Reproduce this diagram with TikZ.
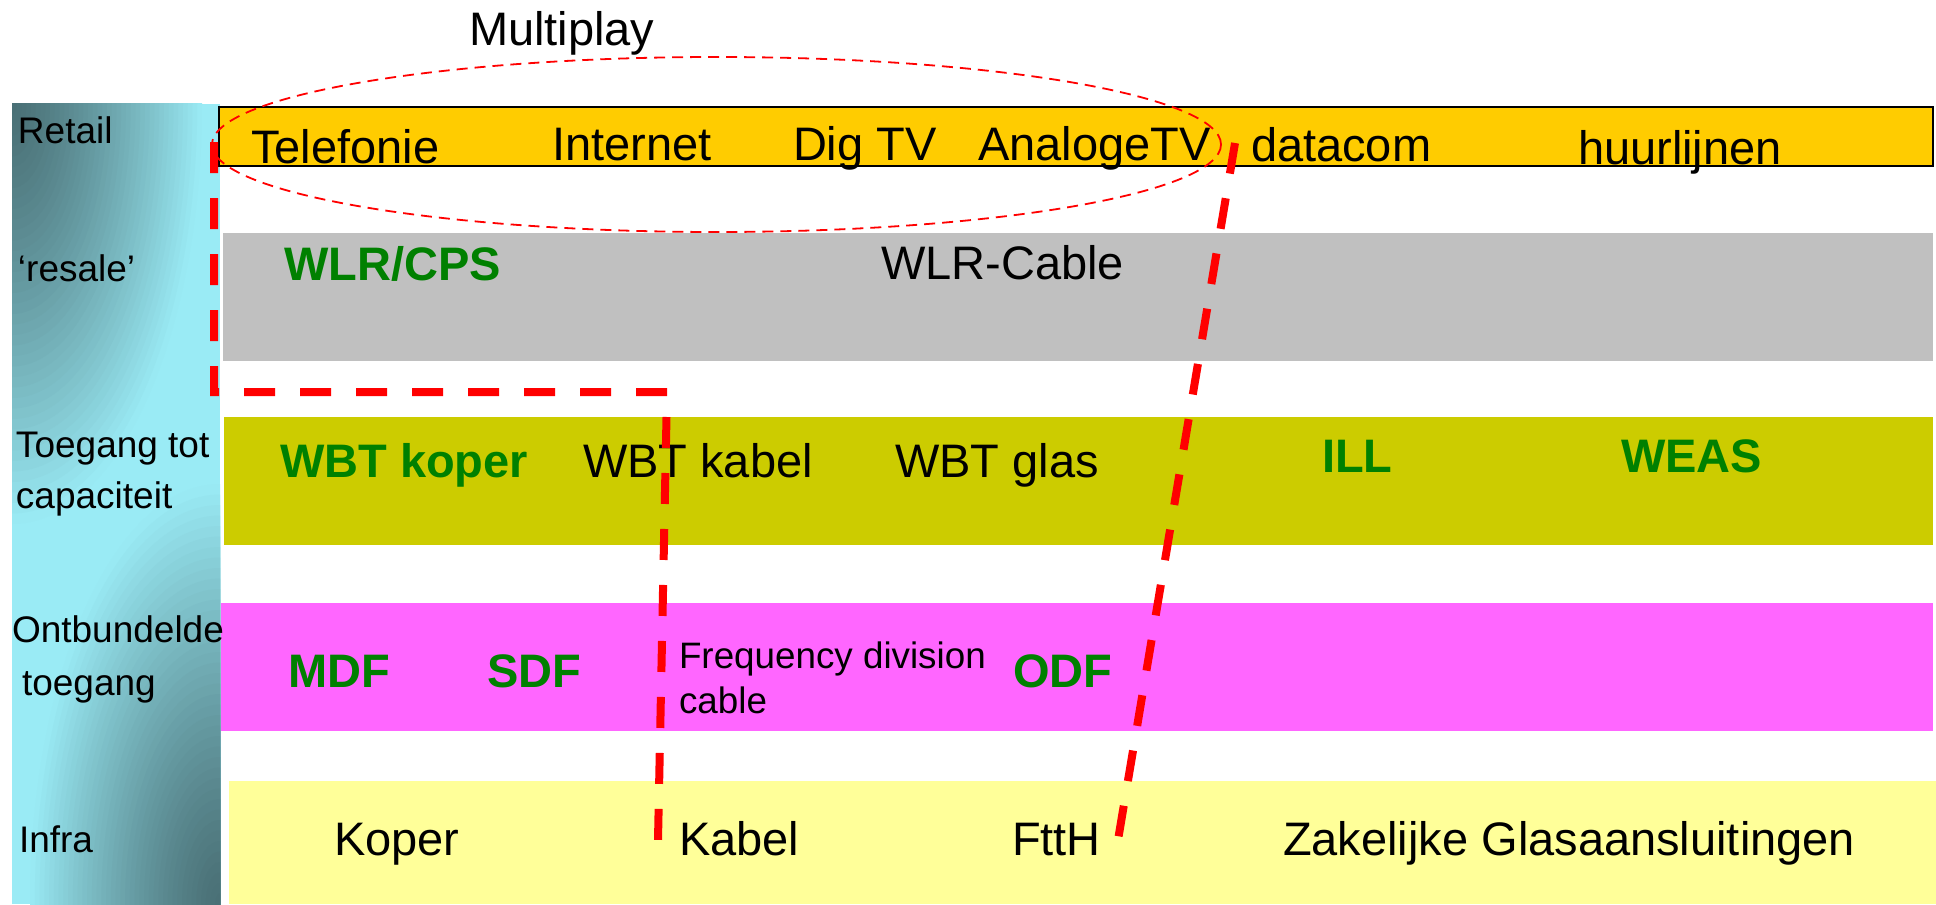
\documentclass[tikz,border=0pt]{standalone}
\usepackage{fontspec}
\setmainfont{Liberation Sans}
\usetikzlibrary{shapes.geometric}
\definecolor{cdark}{HTML}{4A7076}
\definecolor{clight}{HTML}{9AEBF5}
\definecolor{retailc}{HTML}{FFCC00}
\definecolor{resalec}{HTML}{C0C0C0}
\definecolor{capc}{HTML}{CCCC00}
\definecolor{ontc}{HTML}{FF66FF}
\definecolor{infrac}{HTML}{FFFF99}
\definecolor{grn}{HTML}{008000}
\tikzset{
  txt/.style={anchor=base west, inner sep=0pt, outer sep=0pt},
  lbl/.style={txt, font=\fontsize{18.5pt}{22pt}\selectfont},
  big/.style={txt, font=\fontsize{23.5pt}{28pt}\selectfont},
  bgr/.style={txt, font=\fontsize{23.5pt}{28pt}\selectfont\bfseries, text=grn},
  sml/.style={txt, font=\fontsize{18.4pt}{22pt}\selectfont},
  thickdash/.style={draw=red, line width=4pt, dash pattern=on 15.5pt off 12.5pt},
  thindash/.style={draw=red, line width=0.9pt, dash pattern=on 5.5pt off 3.5pt},
}
\begin{document}
\begin{tikzpicture}[x=0.5pt, y=-0.5pt]
\useasboundingbox (0,0) rectangle (1936,904);
% left bar: light cyan, darkening towards top-left and bottom-right corners
\begin{scope}
\clip (12,104) rectangle (220,904);
\fill[clight] (12,104) rectangle (220,904);
\foreach \k in {40,39,...,1}{
  \pgfmathsetmacro{\f}{100*(1-((\k-0.5)/40)^1.3)}
  \fill[cdark!\f!clight] (12,104) ellipse [x radius={95pt*\k/40}, y radius={210pt*\k/40}];
  \fill[cdark!\f!clight] (220,904) ellipse [x radius={95pt*\k/40}, y radius={210pt*\k/40}];
}
\end{scope}
% bands
\fill[resalec] (223,233) rectangle (1933,361);
\fill[capc] (224,417) rectangle (1933,545);
\fill[ontc] (221,603) rectangle (1933,731);
\fill[infrac] (229,781) rectangle (1936,904);
\draw[fill=retailc, draw=black, line width=0.75pt] (219,107) rectangle (1933,166);
% title
\node[big] (multiplay) at (469,46) {Multiplay};
% left labels
\node[lbl] (lretail) at (18,143) {Retail};
\node[lbl] (lresale) at (18,281) {‘resale’};
\node[lbl] (ltoeg1) at (16,457) {Toegang tot};
\node[lbl] (ltoeg2) at (16,508) {capaciteit};
\node[lbl] (lont1) at (12,642) {Ontbundelde};
\node[lbl] (lont2) at (22,695) {toegang};
\node[lbl] (linfra) at (19,852) {Infra};
% retail row
\node[big] (telefonie) at (251,163) {Telefonie};
\node[big] (internet) at (552,160) {Internet};
\node[big] (digtv) at (793,160) {Dig TV};
\node[big] (analoge) at (978,160) {AnalogeTV};
\node[big] (datacom) at (1251,162) {datacom};
\node[big] (huur) at (1578,164) {huurlijnen};
% resale row
\node[bgr] (wlrcps) at (284,280) {WLR/CPS};
\node[big] (wlrcable) at (881,279) {WLR-Cable};
% capacity row
\node[bgr] (wbtkoper) at (280,477) {WBT koper};
\node[big] (wbtkabel) at (583,477) {WBT kabel};
\node[big] (wbtglas) at (895,477) {WBT glas};
\node[bgr] (ill) at (1322,472) {ILL};
\node[bgr] (weas) at (1621,472) {WEAS};
% unbundled row
\node[bgr] (mdf) at (288,687) {MDF};
\node[bgr] (sdf) at (487,687) {SDF};
\node[sml] (freq1) at (679,668) {Frequency division};
\node[sml] (freq2) at (679,713) {cable};
\node[bgr] (odf) at (1013,687) {ODF};
% infra row
\node[big] (koper) at (334,855) {Koper};
\node[big] (kabel) at (679,855) {Kabel};
\node[big] (ftth) at (1012,855) {FttH};
\node[big] (zak) at (1283,855) {Zakelijke Glasaansluitingen};
% multiplay ellipse
\node[thindash, ellipse, minimum width=504.5pt, minimum height=87.5pt, inner sep=0pt] (ell) at (716.5,144.5) {};
% dashed boundaries
\coordinate (a1) at (214,142);
\coordinate (a2) at (214,392);
\coordinate (a3) at (667,392);
\coordinate (a4) at (658,840);
\draw[thickdash] (a1) -- (a2) -- (a3) -- (a4);
\coordinate (b1) at (1235,143);
\coordinate (b2) at (1118,840);
\draw[thickdash] (b1) -- (b2);
\end{tikzpicture}
\end{document}
